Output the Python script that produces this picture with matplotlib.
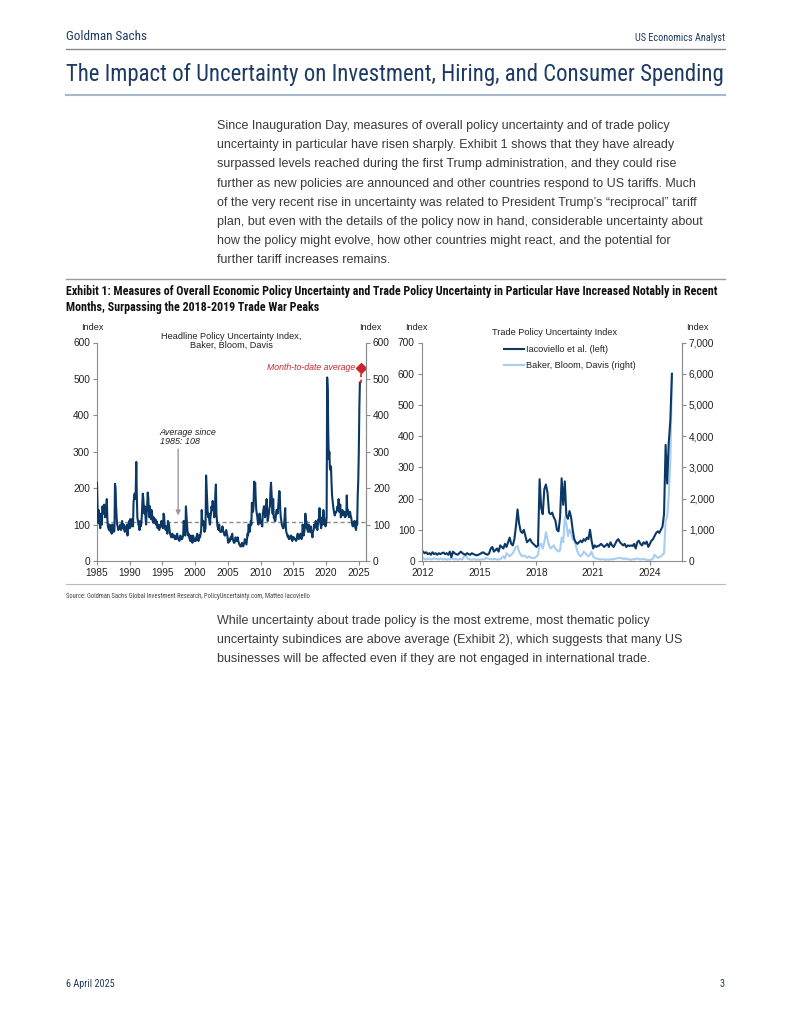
import numpy as np
import matplotlib
matplotlib.use("Agg")
import matplotlib.pyplot as plt
from matplotlib.ticker import FuncFormatter

W, H = 791, 1024

# --- data -------------------------------------------------------------------
# Headline (news-based) EPU, Baker, Bloom, Davis, monthly from Jan 1985
epu_start = 1985
epu = [
    215, 150, 105, 140, 120, 100, 90, 130, 110, 100, 150, 135,   # 1985
    130, 155, 150, 120, 140, 150, 170, 115, 95, 90, 85, 100,     # 1986
    95, 80, 85, 75, 100, 90, 85, 80, 85, 212, 200, 150,          # 1987
    120, 100, 95, 85, 90, 90, 95, 100, 85, 90, 110, 100,         # 1988
    90, 100, 85, 80, 90, 95, 85, 100, 70, 95, 100, 110,          # 1989
    90, 115, 100, 95, 115, 110, 95, 160, 175, 185, 170, 190,     # 1990
    272, 180, 120, 110, 100, 95, 85, 110, 95, 100, 120, 150,     # 1991
    185, 170, 140, 130, 150, 120, 100, 130, 150, 188, 175, 140,  # 1992
    120, 150, 130, 115, 140, 130, 110, 105, 120, 110, 105, 115,  # 1993
    100, 110, 100, 90, 95, 100, 85, 90, 95, 100, 110, 95,        # 1994
    95, 90, 130, 125, 100, 90, 85, 95, 85, 75, 110, 105,         # 1995
    100, 85, 75, 70, 65, 70, 75, 65, 70, 65, 70, 60,             # 1996
    65, 60, 70, 75, 65, 60, 60, 55, 65, 70, 65, 60,              # 1997
    60, 65, 70, 110, 95, 75, 70, 150, 125, 100, 80, 70,          # 1998
    75, 65, 60, 55, 70, 60, 55, 50, 70, 65, 60, 55,              # 1999
    60, 55, 65, 70, 75, 60, 55, 60, 70, 65, 75, 85,              # 2000
    140, 110, 100, 110, 95, 80, 85, 90, 235, 200, 165, 130,      # 2001
    120, 130, 110, 100, 120, 130, 150, 140, 165, 150, 140, 120,  # 2002
    135, 185, 210, 130, 110, 95, 90, 85, 100, 85, 80, 80,        # 2003
    80, 85, 95, 85, 80, 75, 70, 70, 80, 85, 75, 70,              # 2004
    55, 50, 55, 60, 55, 65, 60, 70, 75, 60, 55, 50,              # 2005
    50, 55, 65, 60, 55, 60, 65, 55, 50, 45, 45, 40,              # 2006
    40, 45, 50, 45, 40, 45, 50, 60, 55, 50, 45, 60,              # 2007
    75, 70, 100, 90, 80, 95, 110, 100, 160, 140, 135, 150,       # 2008
    218, 200, 215, 170, 140, 130, 120, 105, 100, 110, 130, 120,  # 2009
    105, 110, 100, 95, 130, 140, 150, 150, 120, 130, 140, 170,   # 2010
    130, 110, 120, 130, 145, 150, 190, 215, 190, 160, 130, 170,  # 2011
    120, 120, 110, 110, 125, 140, 140, 130, 145, 165, 192, 190,  # 2012
    140, 120, 110, 100, 95, 90, 90, 100, 120, 145, 100, 80,      # 2013
    75, 70, 65, 70, 60, 60, 65, 65, 70, 65, 55, 65,              # 2014
    60, 65, 60, 60, 60, 55, 60, 70, 75, 70, 60, 65,              # 2015
    70, 75, 70, 60, 65, 100, 90, 70, 80, 90, 130, 110,           # 2016
    110, 90, 85, 80, 100, 90, 80, 85, 95, 80, 75, 65,            # 2017
    80, 85, 100, 90, 95, 110, 100, 95, 85, 100, 115, 110,        # 2018
    145, 110, 100, 90, 110, 120, 100, 140, 125, 110, 100, 95,    # 2019
    100, 120, 504, 470, 350, 280, 300, 255, 250, 260, 215, 180,  # 2020
    165, 150, 140, 130, 125, 130, 135, 135, 140, 150, 140, 170,  # 2021
    135, 140, 155, 120, 125, 130, 140, 130, 125, 130, 135, 120,  # 2022
    130, 125, 180, 130, 140, 130, 120, 125, 135, 125, 120, 110,  # 2023
    100, 95, 105, 100, 110, 95, 90, 85, 110, 100, 180, 220,      # 2024
    300, 420, 490,                                               # 2025
]
epu_average = 108
avg_arrow_x, avg_arrow_top, avg_arrow_tip = 1997.4, 307, 125
avg_text_x, avg_text_y = 1994.6, 365
mtd_x, mtd_value, mtd_from = 2025.3, 530, 490

# Trade policy uncertainty, monthly from Jan 2012
tpu_start = 2012
tpu_iacoviello = [
    30, 25, 28, 22, 25, 20, 28, 22, 25, 20, 25, 22,      # 2012
    25, 27, 22, 25, 20, 30, 12, 30, 25, 22, 20, 25,      # 2013
    30, 25, 22, 20, 25, 22, 20, 25, 22, 20, 18, 20,      # 2014
    22, 25, 28, 25, 22, 20, 25, 40, 45, 30, 35, 40,      # 2015
    30, 50, 45, 40, 55, 45, 60, 75, 55, 50, 70, 112,     # 2016
    165, 120, 95, 90, 100, 80, 60, 65, 70, 60, 55, 50,   # 2017
    45, 50, 262, 170, 150, 230, 245, 220, 155, 150, 155, 140,  # 2018
    130, 100, 95, 140, 265, 180, 255, 145, 135, 160, 140, 100,  # 2019
    70, 60, 55, 60, 65, 60, 70, 65, 75, 70, 100, 65,     # 2020
    40, 50, 45, 48, 50, 55, 50, 45, 50, 55, 45, 60,      # 2021
    50, 45, 55, 65, 70, 60, 55, 50, 55, 45, 50, 48,      # 2022
    50, 48, 55, 40, 60, 65, 55, 50, 60, 55, 62, 45,      # 2023
    55, 65, 70, 80, 90, 95, 90, 100, 110, 150, 372, 248,  # 2024
    380, 450, 600,                                       # 2025
]
tpu_bbd = [
    100, 60, 50, 80, 70, 50, 60, 90, 70, 60, 50, 80,     # 2012
    60, 50, 70, 40, 60, 50, 90, 60, 50, 70, 40, 60,      # 2013
    60, 50, 150, 200, 80, 60, 50, 40, 60, 50, 40, 50,    # 2014
    40, 50, 60, 50, 100, 80, 70, 60, 50, 70, 60, 50,     # 2015
    50, 60, 100, 150, 80, 250, 200, 150, 200, 250, 350, 450,   # 2016
    480, 300, 200, 150, 180, 150, 100, 150, 120, 100, 90, 100,  # 2017
    150, 200, 520, 550, 400, 600, 920, 700, 500, 400, 450, 500,  # 2018
    400, 350, 300, 350, 750, 600, 1400, 1200, 800, 1000, 900, 700,  # 2019
    650, 500, 300, 200, 150, 200, 300, 250, 200, 150, 200, 300,  # 2020
    150, 100, 80, 70, 60, 50, 60, 50, 40, 50, 40, 50,    # 2021
    60, 50, 70, 80, 100, 90, 100, 60, 80, 70, 60, 50,    # 2022
    40, 60, 50, 70, 80, 60, 50, 60, 70, 50, 40, 30,      # 2023
    30, 50, 80, 200, 150, 100, 120, 150, 200, 250, 1300, 1400,  # 2024
    2100, 3200, 5900,                                    # 2025
]

left_xticks = [1985, 1990, 1995, 2000, 2005, 2010, 2015, 2020, 2025]
right_xticks = [2012, 2015, 2018, 2021, 2024]

paragraph1 = [
    "Since Inauguration Day, measures of overall policy uncertainty and of trade policy",
    "uncertainty in particular have risen sharply. Exhibit 1 shows that they have already",
    "surpassed levels reached during the first Trump administration, and they could rise",
    "further as new policies are announced and other countries respond to US tariffs. Much",
    "of the very recent rise in uncertainty was related to President Trump\u2019s \u201creciprocal\u201d tariff",
    "plan, but even with the details of the policy now in hand, considerable uncertainty about",
    "how the policy might evolve, how other countries might react, and the potential for",
    "further tariff increases remains.",
]
paragraph2 = [
    "While uncertainty about trade policy is the most extreme, most thematic policy",
    "uncertainty subindices are above average (Exhibit 2), which suggests that many US",
    "businesses will be affected even if they are not engaged in international trade.",
]

# --- style ------------------------------------------------------------------
NARROW = ["Roboto Condensed", "Liberation Sans Narrow", "Liberation Sans", "DejaVu Sans"]
SANS = ["Liberation Sans", "DejaVu Sans"]
NAVY = "#0c3866"
LIGHT = "#a9cdf0"
GS_BLUE = "#1d3a63"
GREY = "#8c8c8c"
RED = "#c8282d"
TXT = "#222222"


def fx(x):
    return x / W


def fy(y):
    return 1 - y / H


fig = plt.figure(figsize=(W / 100, H / 100), dpi=100)
renderer = fig.canvas.get_renderer()


def fit(t, width):
    # scale font so the text spans the same pixel width as in the reference
    w = t.get_window_extent(renderer).width
    t.set_fontsize(t.get_fontsize() * width / w)
    return t.get_fontsize()


# header
fit(fig.text(fx(66), fy(37), "Goldman Sachs", family=NARROW, fontsize=9, color=GS_BLUE,
             va="center"), 82)
fit(fig.text(fx(725), fy(38), "US Economics Analyst", family=NARROW, fontsize=7,
             color=GS_BLUE, va="center", ha="right"), 91)
fig.add_artist(plt.Line2D([fx(66), fx(725)], [fy(48.5), fy(48.5)], color="#8a8a8a", lw=1))
fit(fig.text(fx(66), fy(75),
             "The Impact of Uncertainty on Investment, Hiring, and Consumer Spending",
             family=NARROW, fontsize=16.5, color=GS_BLUE, va="center"), 656)
fig.add_artist(plt.Line2D([fx(66), fx(725)], [fy(95), fy(95)], color="#a7b9cc", lw=1.5))

for i, line in enumerate(paragraph1):
    fig.text(fx(217), fy(126 + i * 19.2), line, family=SANS, fontsize=9.0, color="#3a3a3a",
             va="center")

fig.add_artist(plt.Line2D([fx(66), fx(725)], [fy(279), fy(279)], color="#9a9a9a", lw=1))
t1 = fig.text(fx(66), fy(292),
              "Exhibit 1: Measures of Overall Economic Policy Uncertainty and Trade Policy "
              "Uncertainty in Particular Have Increased Notably in Recent",
              family=NARROW, fontsize=7.6, weight="bold", color="#111111", va="center")
ex_size = fit(t1, 649)
fig.text(fx(66), fy(307), "Months, Surpassing the 2018-2019 Trade War Peaks",
         family=NARROW, fontsize=ex_size, weight="bold", color="#111111", va="center")


def style_axes(ax):
    for side in ["left", "right", "bottom"]:
        ax.spines[side].set_color(GREY)
        ax.spines[side].set_linewidth(0.8)
    ax.spines["top"].set_visible(False)
    ax.tick_params(direction="out", length=3, width=0.8, color=GREY, labelsize=7.3,
                   labelcolor=TXT, pad=2)
    for lab in ax.get_xticklabels() + ax.get_yticklabels():
        lab.set_family(SANS)


# --- left chart -------------------------------------------------------------
ax1 = fig.add_axes([fx(97), fy(561), fx(366 - 97), (561 - 342.5) / H])
x_epu = epu_start + np.arange(len(epu)) / 12
ax1.plot(x_epu, epu, color=NAVY, lw=1.5, zorder=3)
ax1.axhline(epu_average, color="#8a8a8a", lw=1, ls=(0, (3, 2)), zorder=2)
ax1.set_xlim(1985, 2026.1)
ax1.set_ylim(0, 600)
ax1.set_yticks(range(0, 601, 100))
ax1.set_xticks(left_xticks)
ax1r = ax1.twinx()
ax1r.set_ylim(0, 600)
ax1r.set_yticks(range(0, 601, 100))
style_axes(ax1)
style_axes(ax1r)
ax1r.spines["left"].set_visible(False)
ax1r.spines["bottom"].set_visible(False)

ax1.annotate("", xy=(avg_arrow_x, avg_arrow_tip), xytext=(avg_arrow_x, avg_arrow_top),
             arrowprops=dict(arrowstyle="-|>", color="#999999", lw=1, mutation_scale=7,
                             shrinkA=0, shrinkB=0))
ax1.text(avg_text_x, avg_text_y, "Average since\n1985: 108", fontsize=6.5, style="italic",
         family=SANS, color=TXT, ha="left", va="top", linespacing=1.05)
ax1.plot([mtd_x, mtd_x], [mtd_from, mtd_value], color=RED, lw=1.2, ls=(0, (2, 1.5)), zorder=4,
         clip_on=False)
ax1.plot([mtd_x], [mtd_value], marker="D", color=RED, ms=5, zorder=5, clip_on=False)
ax1.text(mtd_x - 0.9, mtd_value, "Month-to-date average", fontsize=6.3, style="italic",
         family=SANS, color=RED, ha="right", va="center")
ax1.text(0.5, 1.008, "Headline Policy Uncertainty Index,\nBaker, Bloom, Davis",
         transform=ax1.transAxes, ha="center", va="center", fontsize=6.6, family=SANS,
         color=TXT, linespacing=0.95)
for xp in [92, 370, 416, 697]:
    fig.text(fx(xp), fy(328), "Index", family=SANS, fontsize=6.6, ha="center", va="center",
             color=TXT)

# --- right chart ------------------------------------------------------------
ax2 = fig.add_axes([fx(421.7), fy(561), fx(682 - 421.7), (561 - 342.5) / H])
ax2r = ax2.twinx()
x_tpu = tpu_start + np.arange(len(tpu_iacoviello)) / 12
l_bbd, = ax2r.plot(x_tpu, tpu_bbd, color=LIGHT, lw=1.5, label="Baker, Bloom, Davis (right)")
l_iac, = ax2.plot(x_tpu, tpu_iacoviello, color=NAVY, lw=1.5, label="Iacoviello et al. (left)")
ax2.set_zorder(ax2r.get_zorder() + 1)
ax2.patch.set_visible(False)
ax2.set_xlim(2011.93, 2025.7)
ax2.set_ylim(0, 700)
ax2.set_yticks(range(0, 701, 100))
ax2.set_xticks(right_xticks)
ax2r.set_ylim(0, 7000)
ax2r.set_yticks(range(0, 7001, 1000))
ax2r.yaxis.set_major_formatter(FuncFormatter(lambda v, p: f"{int(v):,}"))
style_axes(ax2)
style_axes(ax2r)
ax2r.spines["left"].set_visible(False)
ax2r.spines["bottom"].set_visible(False)
leg = ax2.legend(handles=[l_iac, l_bbd], loc="upper left", bbox_to_anchor=(0.300, 1.01),
                 frameon=False, handlelength=2.1, handletextpad=0.25,
                 borderpad=0, labelspacing=0.8, prop={"family": SANS, "size": 6.6})
for t in leg.get_texts():
    t.set_color(TXT)
ax2.text(0.51, 1.045, "Trade Policy Uncertainty Index", transform=ax2.transAxes, ha="center",
         va="center", fontsize=6.6, family=SANS, color=TXT)

# --- source and closing text ------------------------------------------------
fig.add_artist(plt.Line2D([fx(66), fx(725)], [fy(584), fy(584)], color="#bbbbbb", lw=0.8))
fit(fig.text(fx(66), fy(596),
             "Source: Goldman Sachs Global Investment Research, PolicyUncertainty.com, "
             "Matteo Iacoviello",
             family=NARROW, fontsize=5, color="#444444", va="center"), 251)
for i, line in enumerate(paragraph2):
    fig.text(fx(217), fy(621 + i * 19.2), line, family=SANS, fontsize=9.0, color="#3a3a3a",
             va="center")

foot = fit(fig.text(fx(66), fy(984), "6 April 2025", family=NARROW, fontsize=6.5,
                    color=GS_BLUE, va="center"), 48)
fig.text(fx(725), fy(984), "3", family=NARROW, fontsize=foot, color=GS_BLUE, va="center",
         ha="right")

fig.savefig("out.png", dpi=100)
